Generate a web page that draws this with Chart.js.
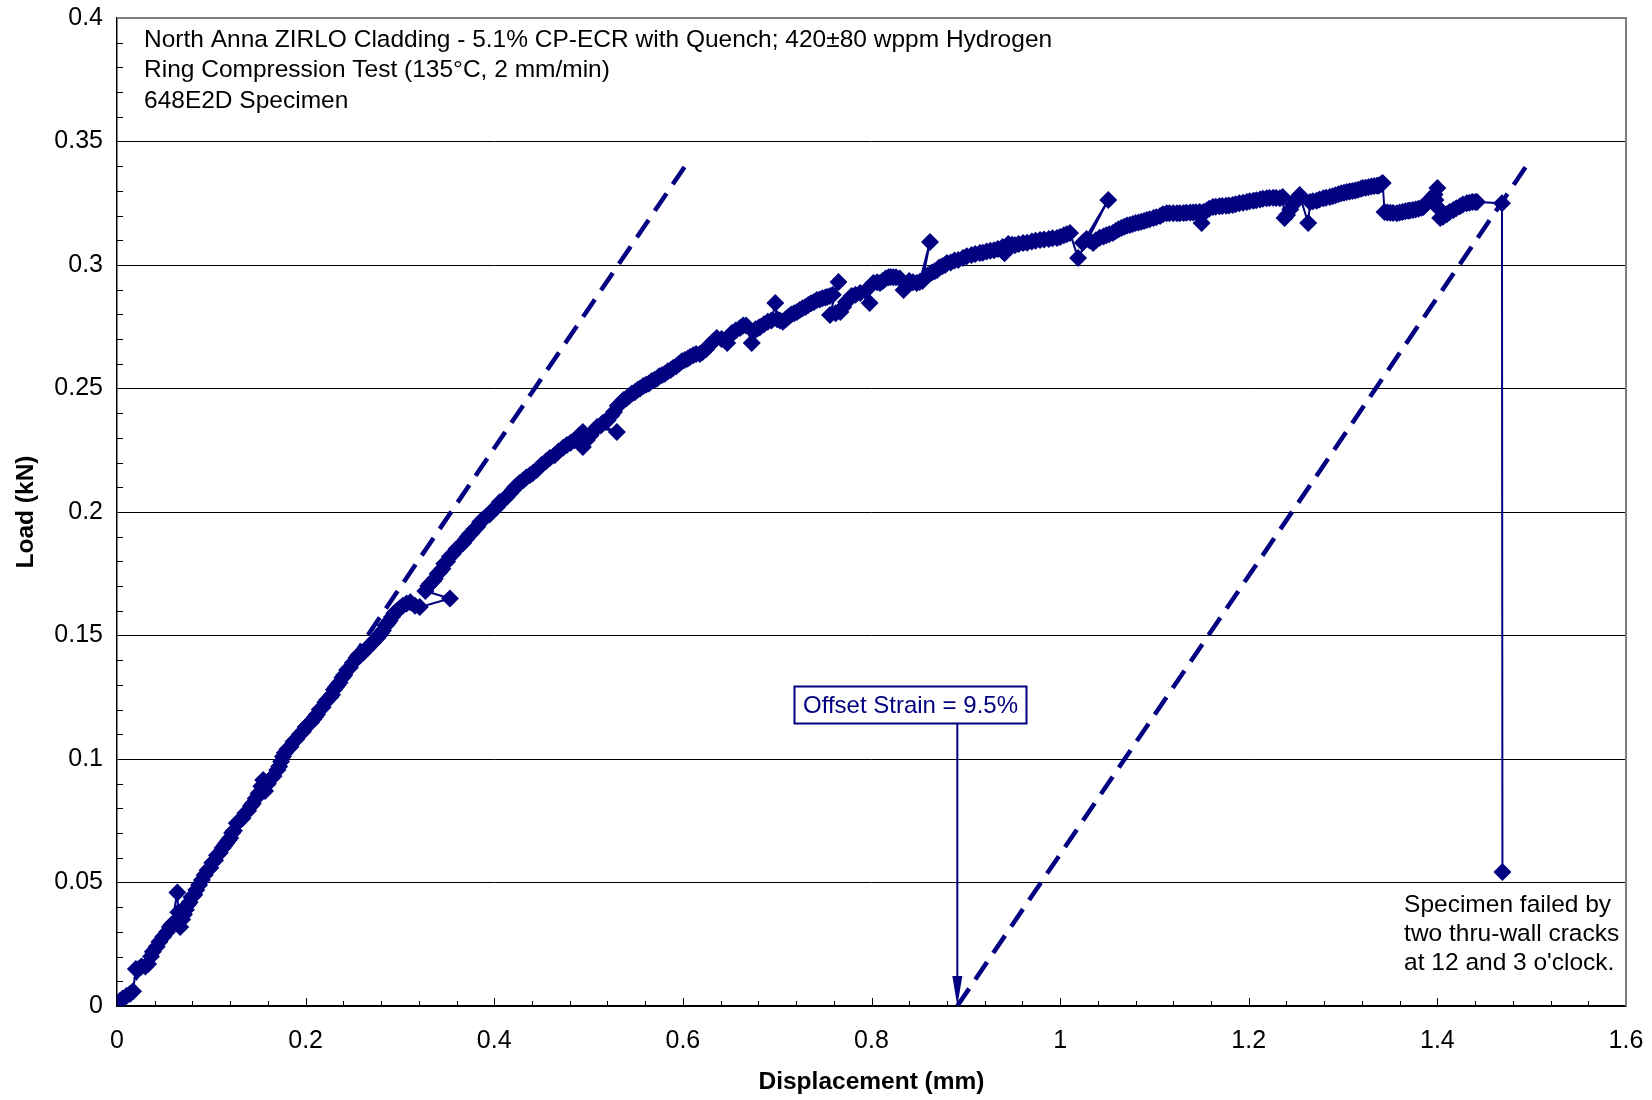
<!DOCTYPE html>
<html><head><meta charset="utf-8">
<script src="https://cdn.jsdelivr.net/npm/chart.js@4.4.0/dist/chart.umd.min.js"></script>
<style>html,body{margin:0;padding:0;background:#fff}canvas{display:block}</style>
</head><body>
<canvas id="c" width="1652" height="1100"></canvas>
<script>
// ---- data (displacement mm, load kN) ----
const elasticRegion = [[0,0.001],[0.003,0.002],[0.006,0.003],[0.010,0.004],[0.014,0.005],[0.017,0.006],[0.020,0.015],[0.023,0.015],[0.026,0.016],[0.030,0.016],[0.033,0.017],[0.036,0.020],[0.038,0.022],[0.042,0.024],[0.045,0.026],[0.049,0.028],[0.053,0.030],[0.056,0.032],[0.058,0.033],[0.064,0.046],[0.065,0.038],[0.067,0.032],[0.069,0.035],[0.071,0.037],[0.073,0.039],[0.075,0.041],[0.077,0.042],[0.079,0.044],[0.082,0.045],[0.084,0.047],[0.087,0.049],[0.090,0.051],[0.093,0.053],[0.096,0.055],[0.099,0.056],[0.101,0.058],[0.104,0.059],[0.106,0.061],[0.109,0.062],[0.112,0.064],[0.114,0.065],[0.116,0.066],[0.118,0.067],[0.120,0.068],[0.122,0.070],[0.124,0.071],[0.127,0.074],[0.130,0.075],[0.133,0.076],[0.136,0.078],[0.139,0.079],[0.142,0.081],[0.144,0.082],[0.147,0.084],[0.150,0.086],[0.153,0.089],[0.155,0.0915],[0.157,0.087],[0.160,0.090],[0.163,0.092],[0.166,0.093],[0.170,0.0955],[0.172,0.097],[0.174,0.099],[0.176,0.101],[0.178,0.1025],[0.181,0.104],[0.184,0.105],[0.187,0.107],[0.190,0.108],[0.194,0.110],[0.197,0.111],[0.200,0.113],[0.203,0.114],[0.206,0.115],[0.208,0.116],[0.210,0.117],[0.212,0.118],[0.215,0.120],[0.218,0.121],[0.221,0.123],[0.223,0.124],[0.226,0.125],[0.228,0.126],[0.230,0.128],[0.232,0.129],[0.234,0.130],[0.236,0.131],[0.239,0.133],[0.241,0.134],[0.244,0.136],[0.247,0.137],[0.250,0.139],[0.254,0.141],[0.256,0.142],[0.258,0.142],[0.261,0.143],[0.263,0.144],[0.266,0.145],[0.268,0.146],[0.271,0.147],[0.273,0.148],[0.276,0.149],[0.278,0.150],[0.280,0.151],[0.282,0.152],[0.285,0.154],[0.287,0.155],[0.289,0.156],[0.2915,0.1575],[0.294,0.159],[0.297,0.160],[0.300,0.161],[0.303,0.162],[0.307,0.163],[0.311,0.1635],[0.316,0.162],[0.321,0.1615],[0.353,0.165]];
const yieldRegion = [[0.327,0.168],[0.330,0.170],[0.332,0.171],[0.335,0.172],[0.337,0.173],[0.340,0.175],[0.342,0.1757],[0.345,0.177],[0.347,0.179],[0.350,0.180],[0.353,0.182],[0.356,0.183],[0.360,0.185],[0.363,0.186],[0.367,0.1875],[0.370,0.189],[0.372,0.190],[0.374,0.191],[0.376,0.1915],[0.379,0.193],[0.382,0.194],[0.385,0.196],[0.388,0.197],[0.391,0.198],[0.395,0.199],[0.399,0.201],[0.403,0.202],[0.406,0.204],[0.410,0.205],[0.413,0.206],[0.417,0.2077],[0.420,0.209],[0.422,0.210],[0.425,0.211],[0.427,0.2117],[0.431,0.213],[0.434,0.214],[0.438,0.215],[0.441,0.2158],[0.445,0.217],[0.450,0.219],[0.455,0.2205],[0.459,0.2219],[0.464,0.223],[0.468,0.2245],[0.473,0.226],[0.477,0.2271],[0.481,0.228],[0.485,0.229],[0.490,0.231],[0.494,0.2324],[0.494,0.2263],[0.498,0.229],[0.502,0.231],[0.506,0.233],[0.509,0.2344],[0.530,0.2324],[0.513,0.235],[0.515,0.236],[0.518,0.2365],[0.520,0.237],[0.524,0.239],[0.527,0.2405],[0.531,0.243],[0.534,0.244],[0.537,0.2453],[0.540,0.246],[0.543,0.247],[0.546,0.248],[0.549,0.2485],[0.552,0.2495],[0.5546,0.250],[0.558,0.251],[0.561,0.2515],[0.564,0.252],[0.567,0.253],[0.570,0.2535],[0.5726,0.254],[0.575,0.255],[0.578,0.2555],[0.581,0.256],[0.584,0.257],[0.587,0.2575],[0.5896,0.2583],[0.593,0.259],[0.596,0.260],[0.599,0.261],[0.602,0.2615],[0.605,0.262],[0.6076,0.2628],[0.611,0.2635],[0.614,0.264],[0.618,0.264],[0.621,0.2648],[0.625,0.266],[0.628,0.2675],[0.632,0.269],[0.636,0.2704],[0.641,0.270],[0.647,0.2684],[0.649,0.271],[0.652,0.2725],[0.656,0.2735],[0.6606,0.2745]];
const hardeningRegion = [[0.664,0.2755],[0.667,0.2755],[0.673,0.2684],[0.675,0.273],[0.677,0.274],[0.680,0.2745],[0.682,0.2749],[0.686,0.276],[0.690,0.277],[0.694,0.2775],[0.698,0.2846],[0.700,0.278],[0.703,0.2775],[0.706,0.277],[0.709,0.278],[0.712,0.279],[0.715,0.280],[0.718,0.2805],[0.721,0.281],[0.724,0.2818],[0.727,0.2825],[0.730,0.283],[0.733,0.2838],[0.736,0.2845],[0.739,0.285],[0.742,0.2858],[0.745,0.286],[0.748,0.2865],[0.751,0.2868],[0.753,0.287],[0.756,0.2875],[0.759,0.288],[0.765,0.2931],[0.756,0.2798],[0.762,0.2805],[0.767,0.281],[0.770,0.283],[0.773,0.285],[0.776,0.286],[0.779,0.2875],[0.783,0.288],[0.788,0.2887],[0.798,0.2846],[0.795,0.290],[0.802,0.2927],[0.806,0.293],[0.809,0.2927],[0.812,0.2935],[0.815,0.2945],[0.818,0.295],[0.820,0.2951],[0.823,0.295],[0.826,0.295],[0.830,0.2945],[0.834,0.2899],[0.837,0.292],[0.840,0.2935],[0.844,0.293],[0.848,0.2927],[0.851,0.2931],[0.862,0.3093],[0.854,0.2935],[0.857,0.295],[0.860,0.296],[0.864,0.297],[0.867,0.2975],[0.8695,0.298],[0.872,0.299],[0.875,0.2995],[0.878,0.300],[0.880,0.3008],[0.884,0.301],[0.888,0.3018],[0.892,0.302],[0.897,0.3028],[0.901,0.3035],[0.906,0.304],[0.910,0.3045],[0.915,0.3049],[0.918,0.305],[0.922,0.3055],[0.926,0.3058],[0.930,0.306],[0.934,0.3065],[0.939,0.3073],[0.941,0.3048],[0.945,0.3085],[0.949,0.3082],[0.952,0.308],[0.956,0.3085],[0.9607,0.3089],[0.965,0.309],[0.970,0.3095],[0.974,0.3098],[0.9787,0.3101],[0.983,0.3103],[0.988,0.3105],[0.992,0.3108],[0.9967,0.3109],[1.000,0.3113],[1.004,0.312],[1.007,0.3125],[1.0105,0.313]];
const plateauRegion = [[1.019,0.3028],[1.051,0.3263],[1.024,0.309],[1.028,0.3105],[1.031,0.310],[1.035,0.3089],[1.038,0.310],[1.042,0.311],[1.046,0.3115],[1.049,0.312],[1.052,0.3125],[1.056,0.313],[1.059,0.3138],[1.062,0.3145],[1.065,0.315],[1.068,0.3155],[1.071,0.316],[1.074,0.3162],[1.077,0.3166],[1.080,0.317],[1.083,0.3172],[1.086,0.3175],[1.089,0.3178],[1.092,0.3182],[1.095,0.3185],[1.099,0.319],[1.102,0.3193],[1.106,0.3198],[1.109,0.3205],[1.113,0.321],[1.116,0.321],[1.120,0.321],[1.124,0.321],[1.127,0.321],[1.131,0.3211],[1.134,0.3212],[1.138,0.3213],[1.141,0.3213],[1.144,0.3214],[1.148,0.3215],[1.150,0.317],[1.152,0.3215],[1.155,0.322],[1.158,0.3228],[1.162,0.3235],[1.165,0.3236],[1.169,0.3238],[1.172,0.3239],[1.176,0.324],[1.179,0.3241],[1.183,0.3243],[1.186,0.3246],[1.190,0.325],[1.194,0.3252],[1.198,0.3255],[1.201,0.3258],[1.205,0.326],[1.208,0.3262],[1.212,0.3265],[1.215,0.3268],[1.219,0.327],[1.222,0.3271],[1.226,0.3272],[1.229,0.3271],[1.233,0.327],[1.236,0.3275],[1.238,0.319],[1.2406,0.3202],[1.244,0.3225],[1.247,0.3245],[1.250,0.3265],[1.254,0.3283],[1.263,0.317],[1.265,0.3255],[1.268,0.3258],[1.272,0.326],[1.275,0.3265],[1.279,0.327],[1.282,0.3272],[1.286,0.3275],[1.289,0.3278],[1.292,0.3282],[1.295,0.3286],[1.298,0.329],[1.301,0.3293],[1.304,0.3296],[1.307,0.3298],[1.310,0.330],[1.313,0.3302],[1.316,0.3305],[1.319,0.3309],[1.321,0.3312],[1.324,0.3313],[1.327,0.3315],[1.330,0.3318],[1.333,0.332],[1.336,0.3321],[1.338,0.3322],[1.340,0.3327],[1.342,0.3332]];
const failureRegion = [[1.344,0.3215],[1.347,0.3213],[1.350,0.3212],[1.353,0.3211],[1.357,0.321],[1.360,0.3213],[1.363,0.3215],[1.366,0.3218],[1.369,0.322],[1.371,0.3221],[1.374,0.3223],[1.377,0.3225],[1.380,0.3228],[1.383,0.3232],[1.385,0.3235],[1.389,0.325],[1.392,0.3265],[1.395,0.3275],[1.397,0.3285],[1.400,0.3312],[1.398,0.3263],[1.400,0.3235],[1.403,0.319],[1.406,0.3195],[1.410,0.3205],[1.413,0.3215],[1.417,0.3223],[1.420,0.323],[1.424,0.3238],[1.427,0.3245],[1.431,0.325],[1.434,0.3252],[1.437,0.3255],[1.440,0.3255],[1.442,0.3255],[1.4685,0.325],[1.469,0.0543]];

// elastic-slope lines and annotation values
const elasticLine = [[0,0],[0.604,0.341]];
const offsetLine = [[0.891,0],[1.496,0.341]];
const offsetStrainX = 0.891;
const xTickValues = [0,0.2,0.4,0.6,0.8,1.0,1.2,1.4,1.6];
const yTickValues = [0,0.05,0.1,0.15,0.2,0.25,0.3,0.35,0.4];
const noteLines = ['North Anna ZIRLO Cladding - 5.1% CP-ECR with Quench; 420\u00B180 wppm Hydrogen','Ring Compression Test (135\u00B0C, 2 mm/min)','648E2D Specimen'];
const failureNote = ['Specimen failed by','two thru-wall cracks',"at 12 and 3 o'clock."];
const offsetLabel = 'Offset Strain = 9.5%';

const NAVY = '#000080';
const FONT = 'Liberation Sans, Arial, sans-serif';
const toXY = a => a.map(p => ({x:p[0], y:p[1]}));
const curve = [].concat(elasticRegion, yieldRegion, hardeningRegion, plateauRegion, failureRegion);
const fmt = v => String(Math.round(v*100)/100);
const noPad = s => { s.paddingTop = 0; s.paddingBottom = 0; s.paddingLeft = 0; s.paddingRight = 0; };

const deco = {
  id:'deco',
  beforeDatasetsDraw(chart){
    const {ctx, chartArea:a, scales:{x,y}} = chart;
    ctx.save();
    ctx.strokeStyle = '#000'; ctx.lineWidth = 1;
    ctx.beginPath();
    for (let i=1;i<40;i++){ if(i%5===0) continue; const py=Math.round(y.getPixelForValue(i/100))+0.5; ctx.moveTo(a.left,py); ctx.lineTo(a.left+6,py); }
    for (let i=1;i<40;i++){ const px=Math.round(x.getPixelForValue(i*0.04))+0.5; const len=(i%5===0)?8:5; ctx.moveTo(px,a.bottom); ctx.lineTo(px,a.bottom-len); }
    ctx.stroke();
    ctx.strokeStyle = '#7f7f7f'; ctx.lineWidth = 2;
    ctx.beginPath(); ctx.moveTo(a.left,a.top); ctx.lineTo(a.right,a.top); ctx.lineTo(a.right,a.bottom); ctx.stroke();
    ctx.restore();
  },
  afterDatasetsDraw(chart){
    const {ctx, chartArea:a, scales:{x,y}} = chart;
    ctx.save();
    ctx.font = '24.5px '+FONT; ctx.textBaseline='middle'; ctx.textAlign='left';
    ctx.fillStyle = '#000';
    noteLines.forEach((t,i)=>ctx.fillText(t, a.left+27, a.top+22+i*30.5));
    failureNote.forEach((t,i)=>ctx.fillText(t, x.getPixelForValue(1.3647), y.getPixelForValue(0.0409)+i*29));
    // offset strain box + arrow
    ctx.font = '24px '+FONT;
    const tw = ctx.measureText(offsetLabel).width;
    const cx = x.getPixelForValue(0.841), cy = y.getPixelForValue(0.122);
    const bw = tw+17, bh = 37;
    const bx = Math.round(cx-bw/2)+0.5, by = Math.round(cy-bh/2)+0.5;
    ctx.fillStyle='#fff'; ctx.fillRect(bx,by,bw,bh);
    ctx.strokeStyle=NAVY; ctx.lineWidth=2; ctx.strokeRect(bx,by,bw,bh);
    ctx.fillStyle=NAVY; ctx.textAlign='center';
    ctx.fillText(offsetLabel, bx+bw/2, by+bh/2+1);
    const ax = x.getPixelForValue(offsetStrainX), ay = y.getPixelForValue(0);
    ctx.beginPath(); ctx.moveTo(ax, by+bh); ctx.lineTo(ax, ay-26); ctx.stroke();
    ctx.beginPath(); ctx.moveTo(ax, ay); ctx.lineTo(ax-5, ay-30); ctx.lineTo(ax+5, ay-30); ctx.closePath(); ctx.fill();
    ctx.restore();
  }
};

new Chart(document.getElementById('c'), {
  type:'scatter',
  data:{datasets:[
    {data:toXY(curve), showLine:true, borderColor:NAVY, borderWidth:2, backgroundColor:NAVY,
     pointStyle:'rectRot', pointRadius:9, pointBorderWidth:0, pointBackgroundColor:NAVY},
    {data:toXY(elasticLine), showLine:true, borderColor:NAVY, borderWidth:4.5, borderDash:[21,11], pointRadius:0},
    {data:toXY(offsetLine), showLine:true, borderColor:NAVY, borderWidth:4.5, borderDash:[21,11], pointRadius:0}
  ]},
  options:{
    responsive:false, animation:false, devicePixelRatio:1,
    layout:{padding:{top:18,right:26,left:0,bottom:0}},
    plugins:{legend:{display:false}, tooltip:{enabled:false}},
    scales:{
      x:{type:'linear', min:0, max:1.6,
        afterFit(s){ s.height = 94; noPad(s); },
        afterBuildTicks(s){ s.ticks = xTickValues.map(v=>({value:v})); },
        grid:{display:false, drawTicks:false},
        border:{display:true, color:'#000', width:1.5},
        ticks:{autoSkip:false, maxRotation:0, padding:20, color:'#000', font:{family:FONT,size:25}, callback:v=>fmt(v)},
        title:{display:true, text:'Displacement (mm)', color:'#000', font:{family:FONT,size:24.5,weight:'bold'}, padding:{top:0,bottom:3}}
      },
      y:{type:'linear', min:0, max:0.4,
        afterFit(s){ s.width = 117; noPad(s); },
        afterBuildTicks(s){ s.ticks = yTickValues.map(v=>({value:v})); },
        grid:{color:'#000', lineWidth:1, drawTicks:false},
        border:{display:true, color:'#000', width:1.5},
        ticks:{autoSkip:false, padding:14, color:'#000', font:{family:FONT,size:25}, callback:v=>fmt(v)},
        title:{display:true, text:'Load (kN)', color:'#000', font:{family:FONT,size:24.5,weight:'bold'}, padding:{top:12,bottom:0}}
      }
    }
  },
  plugins:[deco]
});
</script>
</body></html>
